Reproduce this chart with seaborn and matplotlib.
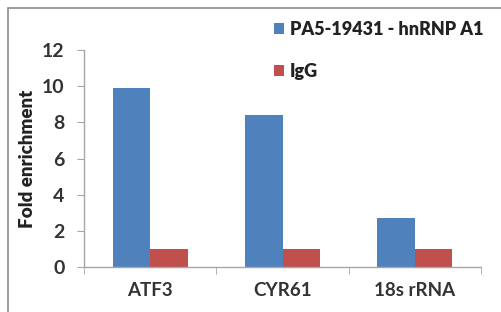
import seaborn as sns
import pandas as pd
import matplotlib.pyplot as plt
from matplotlib.patches import Rectangle

categories = ["ATF3", "CYR61", "18s rRNA"]
series = ["PA5-19431 - hnRNP A1", "IgG"]
hnrnp_vals = [9.9, 8.4, 2.7]
igg_vals = [1.0, 1.0, 1.0]
yticks = [0, 2, 4, 6, 8, 10, 12]

df = pd.DataFrame({
    "target": categories * 2,
    "series": [series[0]] * 3 + [series[1]] * 3,
    "fold": hnrnp_vals + igg_vals,
})

sns.set_style("white")
plt.rcParams['font.family'] = ['Lato', 'DejaVu Sans']

fig = plt.figure(figsize=(5.02, 3.12), dpi=100)
ax = fig.add_axes([0.1673, 0.1442, 0.7909, 0.6955])

sns.barplot(data=df, x="target", y="fold", hue="series", ax=ax,
            palette=["#4F81BD", "#C0504D"], width=0.566, saturation=1,
            edgecolor="none", linewidth=0)

ax.set_ylim(0, 12)
ax.set_xlim(-0.5, 2.5)
ax.set_yticks(yticks)
ax.set_ylabel("Fold enrichment", fontsize=13.5, fontweight="heavy", labelpad=4)
ax.set_xlabel("")

for s in ["top", "right"]:
    ax.spines[s].set_visible(False)
for s in ["left", "bottom"]:
    ax.spines[s].set_color("#A6A6A6")
    ax.spines[s].set_linewidth(1)

ax.tick_params(axis="y", length=5, color="#A6A6A6", direction="out",
               labelsize=14, pad=9, left=True)
ax.tick_params(axis="x", which="major", length=0, labelsize=13.5, pad=11)
ax.set_xticks([-0.5, 0.5, 1.5, 2.5], minor=True)
ax.tick_params(axis="x", which="minor", length=5, color="#A6A6A6",
               direction="out", bottom=True)
for lab in ax.get_yticklabels() + ax.get_xticklabels():
    lab.set_fontweight("bold")
    lab.set_color("#333333")
ax.yaxis.label.set_color("#222222")

handles, labels = ax.get_legend_handles_labels()
leg = ax.legend(handles, labels, loc="upper left",
                bbox_to_anchor=(258 / 502, 1 - 5 / 312), bbox_transform=fig.transFigure,
                frameon=False, handlelength=0.55, handleheight=0.55, handletextpad=0.3,
                labelspacing=1.35, prop={"weight": "heavy", "size": 13})
for t in leg.get_texts():
    t.set_color("#222222")

fig.patches.append(Rectangle((8 / 502, -0.1), 1.2, 1 - 8 / 312 + 0.1,
                             transform=fig.transFigure, fill=False,
                             edgecolor="#8C8C8C", linewidth=1.2))

fig.savefig("out.png", dpi=100)
